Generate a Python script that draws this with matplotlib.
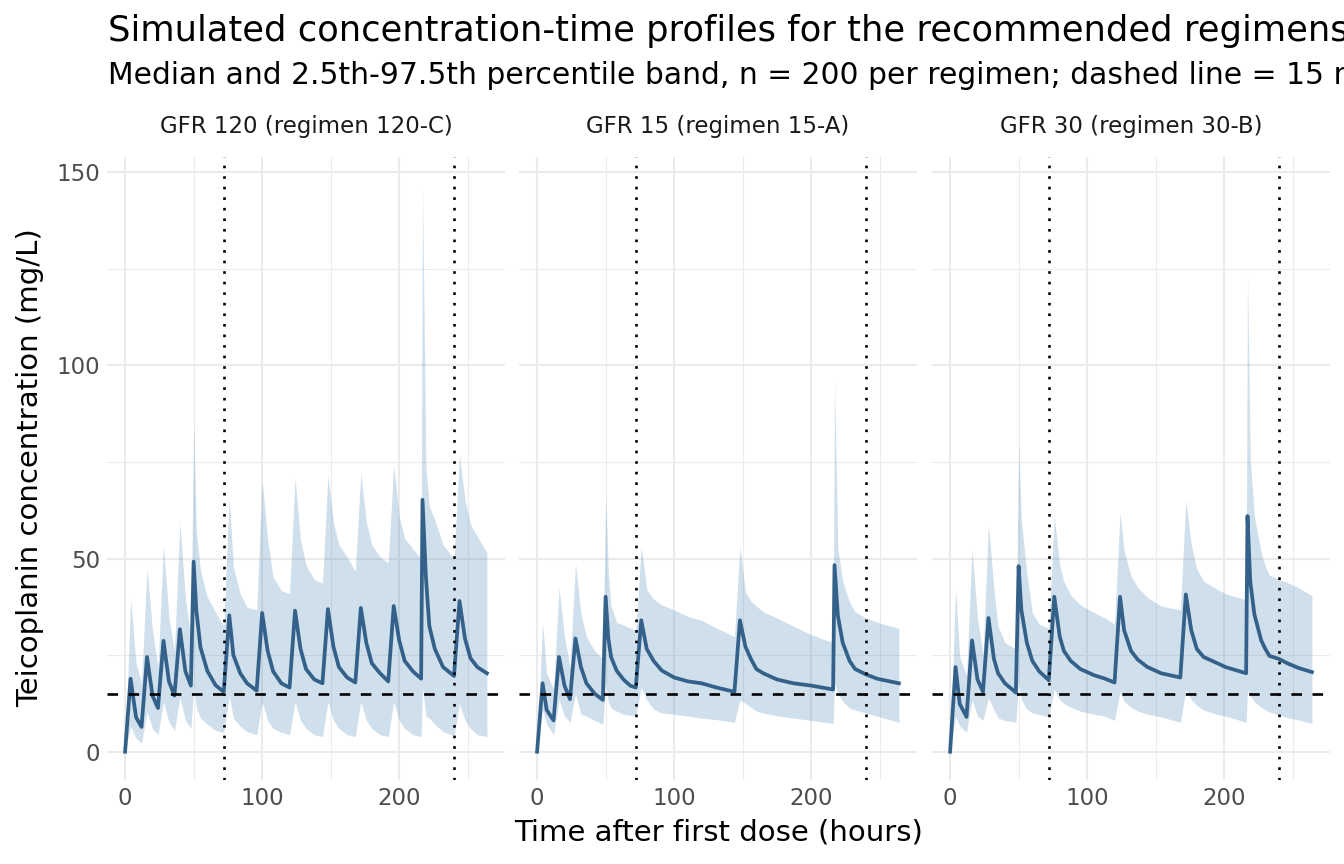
import numpy as np
import matplotlib
matplotlib.use("Agg")
import matplotlib.pyplot as plt
from matplotlib.ticker import MultipleLocator

# ---- data ----
panel_titles = ["GFR 120 (regimen 120-C)", "GFR 15 (regimen 15-A)", "GFR 30 (regimen 30-B)"]

t_120 = [0, 4, 8, 12, 16, 20, 24, 28, 32, 36, 40, 44, 48,
         50, 52, 55, 60, 66, 72,
         76, 79, 84, 89, 96,
         100, 104, 108, 114, 120,
         124, 128, 132, 138, 144,
         148, 152, 156, 162, 168,
         172, 176, 180, 186, 192,
         196, 200, 204, 210, 216,
         217, 219.5, 222, 226, 232, 240,
         244, 248, 252, 257, 264]
med_120 = [0, 18.9, 8.9, 6.4, 24.5, 14.5, 11.3, 28.7, 18.2, 14.5, 31.7, 20.8, 17.1,
           49.2, 36.5, 27.0, 20.9, 17.2, 15.5,
           35.3, 25.0, 20.3, 17.7, 15.8,
           35.9, 26.1, 20.8, 17.7, 16.6,
           36.5, 26.6, 21.4, 18.7, 17.7,
           36.9, 27.2, 21.9, 19.2, 17.9,
           37.2, 28.2, 22.9, 20.3, 18.2,
           37.7, 28.8, 23.5, 20.8, 18.9,
           65.2, 45.1, 32.5, 26.6, 21.9, 19.6,
           39.0, 29.3, 24.2, 21.9, 20.3]
hi_120 = [0, 39.5, 22.9, 17.7, 47.4, 31.4, 21.9, 53.5, 34.6, 26.1, 59.1, 39.9, 29.3,
          85.5, 57.0, 47.0, 40.0, 36.0, 32.5,
          66.0, 47.8, 40.9, 37.4, 36.7,
          70.4, 54.8, 45.2, 41.7, 40.9,
          71.0, 54.7, 48.3, 44.6, 43.6,
          71.6, 59.4, 53.6, 50.4, 46.7,
          72.1, 59.4, 53.6, 50.4, 48.8,
          74.2, 61.0, 55.2, 52.5, 49.9,
          146.6, 73.7, 63.6, 60.0, 53.5, 49.9,
          76.8, 65.2, 58.9, 55.7, 51.5]
lo_120 = [0, 6.5, 3.5, 2.2, 10.3, 6.0, 4.4, 12.9, 7.6, 5.5, 14.0, 8.1, 6.0,
          16.6, 11.3, 8.7, 7.1, 5.5, 5.0,
          14.5, 8.7, 6.6, 5.2, 4.4,
          12.9, 8.1, 6.0, 5.0, 4.4,
          12.9, 8.1, 6.0, 4.4, 3.9,
          12.9, 8.1, 6.0, 4.4, 3.9,
          12.9, 8.1, 6.0, 4.4, 3.9,
          12.9, 8.1, 6.0, 4.4, 3.9,
          16.6, 9.2, 8.7, 7.1, 5.2, 4.1,
          12.4, 8.1, 6.0, 4.4, 3.9]

t_15 = [0, 4, 7, 12, 16, 20, 24, 28, 32, 36, 42, 48,
        50, 52, 54, 58, 63, 68, 72,
        76, 80, 85, 91, 100, 110, 120, 131, 144,
        148, 152, 156, 160, 165, 175, 187, 200, 216,
        217, 219.5, 223, 228, 232, 240, 248, 264]
med_15 = [0, 17.7, 10.8, 8.1, 24.5, 17.1, 13.6, 29.3, 21.9, 17.7, 15.0, 13.4,
          40.1, 29.3, 24.5, 21.0, 18.7, 17.1, 16.6,
          34.0, 26.6, 23.5, 21.0, 19.2, 18.2, 17.7, 16.6, 15.5,
          34.0, 27.2, 24.0, 21.4, 20.3, 18.7, 17.7, 17.1, 16.1,
          48.3, 35.1, 28.2, 23.5, 21.4, 20.0, 18.9, 17.7]
hi_15 = [0, 33.5, 20.3, 16.1, 42.5, 29.8, 21.9, 48.8, 35.6, 29.8, 26.1, 24.0,
         66.3, 46.2, 37.7, 33.5, 32.8, 32.0, 31.4,
         53.1, 42.0, 39.5, 38.0, 36.7, 35.0, 34.0, 32.0, 29.8,
         53.1, 41.4, 39.0, 37.7, 36.2, 34.6, 32.5, 30.3, 28.2,
         95.9, 52.5, 44.1, 38.8, 36.2, 34.6, 33.5, 31.9]
lo_15 = [0, 10.8, 7.1, 4.4, 13.4, 9.2, 7.6, 15.0, 9.7, 9.2, 8.1, 7.1,
         17.7, 12.9, 11.3, 10.5, 9.7, 9.4, 9.2,
         16.6, 13.4, 11.0, 10.0, 9.7, 9.2, 8.7, 8.3, 7.6,
         13.4, 12.5, 11.5, 10.5, 10.0, 9.3, 8.7, 8.1, 7.3,
         17.7, 15.0, 13.0, 11.3, 10.8, 10.0, 9.2, 7.6]

t_30 = [0, 4, 7, 12, 16, 20, 24, 28, 32, 35, 40, 48,
        50, 52, 56, 60, 65, 72,
        76, 80, 83, 88, 95, 105, 113, 120,
        124, 127, 132, 137, 144, 154, 168,
        172, 176, 180, 185, 195, 201, 216,
        217, 219, 222, 227, 230, 233, 240, 246, 254, 264]
med_30 = [0, 21.9, 12.4, 9.0, 28.8, 18.7, 15.5, 34.6, 24.0, 20.3, 17.7, 15.3,
          48.0, 36.7, 28.2, 23.5, 20.8, 18.5,
          40.1, 29.8, 26.1, 23.5, 21.4, 19.8, 18.9, 17.9,
          40.1, 31.4, 26.1, 23.8, 21.9, 20.3, 19.2,
          40.7, 31.4, 26.6, 24.5, 22.9, 21.9, 20.3,
          61.0, 44.1, 35.6, 28.8, 26.6, 24.8, 24.0, 22.9, 21.7, 20.6]
hi_30 = [0, 42.5, 24.5, 19.8, 52.5, 34.6, 25.1, 58.9, 42.0, 32.5, 28.2, 26.6,
         80.0, 59.9, 46.2, 36.0, 33.0, 31.9,
         61.0, 48.3, 44.0, 40.5, 38.0, 36.0, 34.6, 33.0,
         62.0, 52.0, 45.5, 42.5, 39.9, 37.7, 36.7,
         65.2, 53.6, 47.3, 44.1, 42.0, 40.9, 39.3,
         124.0, 75.8, 61.0, 51.5, 48.0, 45.7, 44.6, 43.8, 42.5, 40.4]
lo_30 = [0, 9.2, 6.6, 5.0, 13.4, 9.2, 8.1, 14.0, 10.8, 8.7, 8.1, 7.6,
         17.7, 13.4, 11.0, 10.0, 9.6, 9.0,
         16.1, 13.4, 12.5, 11.5, 10.5, 9.7, 9.2, 8.1,
         15.5, 13.0, 11.5, 10.5, 9.7, 9.0, 7.6,
         16.1, 13.4, 12.0, 10.8, 9.6, 9.2, 7.6,
         16.1, 14.5, 12.9, 11.5, 10.8, 10.3, 9.5, 8.8, 8.2, 7.3]

target = 15
window_lines = [72, 240]

panels = [(t_120, med_120, lo_120, hi_120),
          (t_15, med_15, lo_15, hi_15),
          (t_30, med_30, lo_30, hi_30)]

line_col = "#34618a"
band_col = "steelblue"
grid_col = "#ebebeb"

# shared scales, 5% expansion like ggplot
tmax = max(max(p[0]) for p in panels)
ymax = max(max(p[3]) for p in panels)
xlim = (-0.05 * tmax, tmax * 1.05)
ylim = (-0.05 * ymax, ymax * 1.05)

W, H = 1344, 864
fig = plt.figure(figsize=(W / 100, H / 100), dpi=100)

lefts = [107, 519, 932]
pw = 398
top, bottom = 157, 780

for i, (t, med, lo, hi) in enumerate(panels):
    ax = fig.add_axes([lefts[i] / W, 1 - bottom / H, pw / W, (bottom - top) / H])
    ax.set_xlim(xlim)
    ax.set_ylim(ylim)
    ax.xaxis.set_major_locator(MultipleLocator(100))
    ax.xaxis.set_minor_locator(MultipleLocator(50))
    ax.yaxis.set_major_locator(MultipleLocator(50))
    ax.yaxis.set_minor_locator(MultipleLocator(25))
    ax.grid(which="major", color=grid_col, linewidth=1.5)
    ax.grid(which="minor", color=grid_col, linewidth=0.75)
    ax.set_axisbelow(True)
    for s in ax.spines.values():
        s.set_visible(False)
    ax.tick_params(which="both", length=0)
    ax.tick_params(axis="both", labelsize=16.5, labelcolor="#4d4d4d", pad=5)
    if i > 0:
        ax.tick_params(axis="y", labelleft=False)

    ax.fill_between(t, lo, hi, color=band_col, alpha=0.25, linewidth=0)
    ax.plot(t, med, color=line_col, linewidth=2.7)
    ax.axhline(target, color="black", linewidth=1.9, linestyle=(0, (4, 4)))
    for v in window_lines:
        ax.axvline(v, color="black", linewidth=1.9, linestyle=(0, (1, 3)))

    ax.text(0.5, (bottom - 127) / (bottom - top), panel_titles[i], transform=ax.transAxes,
            fontsize=16.5, color="#1a1a1a", ha="center", va="center")

# title and subtitle run past the right edge, as in the reference
fig.text(108 / W, 1 - 31 / H, "Simulated concentration-time profiles for the recommended regimens",
         fontsize=25.4, va="center", ha="left")
fig.text(108 / W, 1 - 75 / H,
         "Median and 2.5th-97.5th percentile band, n = 200 per regimen; dashed line = 15 mg/L",
         fontsize=21.4, va="center", ha="left")
fig.text((107 + 1330) / 2 / W, 1 - 832 / H, "Time after first dose (hours)",
         fontsize=21, ha="center", va="center")
fig.text(30 / W, 1 - 468 / H, "Teicoplanin concentration (mg/L)",
         fontsize=21, ha="center", va="center", rotation=90)

fig.savefig("out.png", dpi=100)
